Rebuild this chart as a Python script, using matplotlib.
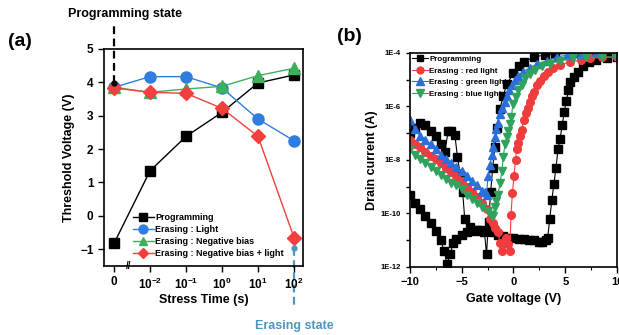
import matplotlib
matplotlib.use("Agg")
import matplotlib.pyplot as plt
import numpy as np

plt.rcParams['font.family'] = ['Liberation Sans', 'DejaVu Sans']
plt.rcParams['font.weight'] = 'bold'
plt.rcParams['mathtext.fontset'] = 'custom'
plt.rcParams['mathtext.bf'] = 'Liberation Sans:bold'
plt.rcParams['mathtext.rm'] = 'Liberation Sans:bold'
plt.rcParams['mathtext.default'] = 'bf'

# ---- panel (a): threshold voltage vs stress time ----
stress_labels = ['0', r'$10^{-2}$', r'$10^{-1}$', r'$10^{0}$', r'$10^{1}$', r'$10^{2}$']
vth_programming = [-0.82, 1.35, 2.38, 3.10, 3.98, 4.22]
vth_light = [3.85, 4.17, 4.17, 3.83, 2.90, 2.25]
vth_negbias = [3.85, 3.70, 3.80, 3.88, 4.20, 4.42]
vth_negbias_light = [3.83, 3.70, 3.67, 3.22, 2.38, -0.65]
prog_state_vth = 3.97
erase_state_vth = -0.97

# ---- panel (b): transfer curves, gate voltage (V) and log10 of drain current (A) ----
vg_prog = [-10, -9.5, -9, -8.5, -8, -7.5, -7, -6.7, -6.4, -6.1, -5.8, -5.5, -5, -4.5, -4, -3.5,
           -3, -2.5, -2, -1.5, -1, -0.5, 0, 0.5, 1, 1.5, 2, 2.5, 2.8, 3.1, 3.3, 3.5, 3.7, 3.9,
           4.1, 4.3, 4.5, 4.7, 4.9, 5.1, 5.3, 5.5, 5.8, 6.2, 6.7, 7.3, 8, 9, 10]
logi_prog = [-9.3, -9.6, -9.85, -10.1, -10.35, -10.65, -11.0, -11.4, -11.9, -11.5, -11.1, -10.95,
             -10.8, -10.7, -10.65, -10.6, -10.6, -10.65, -10.7, -10.8, -10.85, -10.9, -10.9, -10.95,
             -10.95, -11.0, -11.0, -11.05, -11.05, -11.0, -10.9, -10.2, -9.5, -8.9, -8.3, -7.6, -7.2,
             -6.7, -6.2, -5.8, -5.4, -5.1, -4.9, -4.7, -4.5, -4.35, -4.25, -4.2, -4.15]

vg_init = [-10, -9.5, -9, -8.5, -8, -7.5, -7, -6.6, -6.3, -6.0, -5.65, -5.4, -5.1, -4.9, -4.7,
           -4.2, -3.7, -3.2, -2.8, -2.6, -2.4, -2.2, -2.0, -1.8, -1.6, -1.3, -1.0, -0.6, 0, 0.5,
           1, 2, 3, 4, 6, 8, 10]
logi_init = [-7.0, -6.8, -6.6, -6.7, -6.9, -7.1, -7.4, -7.7, -6.9, -6.9, -7.07, -7.9, -8.6, -9.2,
             -10.2, -10.5, -10.6, -10.65, -10.7, -11.5, -10.3, -9.2, -8.3, -7.5, -6.8, -6.1, -5.6,
             -5.15, -4.75, -4.5, -4.35, -4.15, -4.08, -4.05, -4.0, -4.0, -4.0]

vg_red = [-10, -9.5, -9, -8.5, -8, -7.5, -7, -6.5, -6, -5.5, -5, -4.5, -4, -3.5, -3, -2.6, -2.3,
          -2.0, -1.8, -1.5, -1.3, -1.1, -0.9, -0.7, -0.5, -0.35, -0.24, -0.1, 0.05, 0.2, 0.3, 0.45,
          0.6, 0.8, 1.0, 1.2, 1.4, 1.6, 1.8, 2.0, 2.3, 2.6, 2.9, 3.3, 3.8, 4.5, 5.5, 6.5, 7.4, 8.5, 10]
logi_red = [-7.25, -7.4, -7.5, -7.7, -7.85, -7.95, -8.1, -8.3, -8.45, -8.6, -8.8, -9.0, -9.2, -9.4,
            -9.6, -9.85, -10.2, -10.35, -10.55, -10.7, -11.1, -11.4, -11.1, -10.9, -11.15, -11.4,
            -10.05, -9.25, -8.6, -8.0, -7.6, -7.37, -7.1, -6.88, -6.5, -6.25, -6.05, -5.85, -5.6,
            -5.45, -5.2, -5.05, -4.85, -4.7, -4.57, -4.45, -4.33, -4.27, -4.2, -4.17, -4.15]

vg_blue = [-10, -9.5, -9, -8.5, -8, -7.5, -7, -6.5, -6, -5.5, -5, -4.5, -4, -3.5, -3, -2.75, -2.6,
           -2.45, -2.25, -2.1, -2.0, -1.8, -1.65, -1.5, -1.3, -1.1, -0.85, -0.6, -0.4, -0.15, 0.15,
           0.45, 0.9, 1.6, 2.3, 3.2, 4.2, 5.2, 6.5, 8, 10]
logi_blue = [-6.5, -6.85, -7.1, -7.25, -7.4, -7.6, -7.8, -7.95, -8.1, -8.25, -8.4, -8.6, -8.8,
             -8.95, -9.15, -9.2, -9.3, -8.6, -8.2, -7.8, -7.5, -7.15, -6.85, -6.6, -6.3, -6.05,
             -5.85, -5.6, -5.4, -5.2, -5.0, -4.85, -4.7, -4.55, -4.4, -4.3, -4.15, -4.08, -4.03,
             -4.0, -4.0]

vg_green = [-10, -9.5, -9, -8.5, -8, -7.5, -7, -6.5, -6, -5.5, -5, -4.5, -4, -3.5, -3, -2.5, -2.2,
            -2.0, -1.8, -1.65, -1.5, -1.3, -1.1, -1.0, -0.8, -0.65, -0.5, -0.35, -0.2, -0.05, 0.2,
            0.45, 0.8, 1.1, 1.6, 2.1, 2.8, 3.5, 4.5, 5.75, 7, 8.5, 10]
logi_green = [-7.6, -7.8, -7.95, -8.1, -8.25, -8.4, -8.55, -8.7, -8.85, -8.95, -9.1, -9.3, -9.45,
              -9.6, -9.75, -9.9, -10.05, -10.1, -9.75, -9.55, -9.3, -8.85, -8.4, -7.9, -7.4, -7.15,
              -6.9, -6.65, -6.4, -5.9, -5.65, -5.4, -5.2, -4.95, -4.8, -4.63, -4.5, -4.4, -4.3,
              -4.2, -4.17, -4.15, -4.15]

decades = [-4, -5, -6, -7, -8, -9, -10, -11, -12]
decade_labels = ['1E-4', '', '1E-6', '', '1E-8', '', '1E-10', '', '1E-12']

fig = plt.figure(figsize=(6.19, 3.35), dpi=100)

# ================= (a) =================
ax1 = fig.add_axes([0.168, 0.206, 0.3215, 0.648])
x = np.arange(len(stress_labels))
ax1.plot(x, vth_programming, '-s', color='black', mfc='black', mec='black', ms=7.5, lw=1.0,
         label='Programming')
ax1.plot(x, vth_light, '-o', color='#2f7de0', ms=8, lw=1.0, label='Erasing : Light')
ax1.plot(x, vth_negbias, '-^', color='#3cb05a', ms=8, lw=1.0, label='Erasing : Negative bias')
ax1.plot(x, vth_negbias_light, '-D', color='#f43f3f', ms=7, lw=1.0,
         label='Erasing : Negative bias + light')

ax1.set_xlim(-0.28, 5.25)
ax1.set_ylim(-1.5, 5)
ax1.set_xticks(x)
ax1.set_xticklabels(stress_labels, fontsize=8.5)
ax1.set_yticks([-1, 0, 1, 2, 3, 4, 5])
ax1.tick_params(axis='y', labelsize=8.5, length=4, width=1)
ax1.tick_params(axis='x', length=4, width=1)
for s in ax1.spines.values():
    s.set_linewidth(1.2)
ax1.set_xlabel('Stress Time (s)', fontsize=9, fontweight='bold', labelpad=2)
ax1.set_ylabel('Threshold Voltage (V)', fontsize=9, fontweight='bold', labelpad=4)

ax1.legend(loc='lower left', bbox_to_anchor=(0.145, 0.035), frameon=False,
           handlelength=2.3, handletextpad=0.15, labelspacing=0.35, borderaxespad=0,
           borderpad=0, markerscale=0.8, prop={'weight': 'bold', 'size': 6.5})

# axis break mark
ax1.text(0.4, -1.5, '//', fontsize=7, ha='center', va='center', fontweight='bold',
         clip_on=False)

# programming state marker
ax1.plot([0, 0], [prog_state_vth, 5.68], '--', color='black', lw=1.6, dashes=(3.5, 2),
         clip_on=False)
ax1.plot(0, prog_state_vth, 'o', color='black', ms=3.5, clip_on=False, zorder=5)
ax1.text(0.3, 6.05, 'Programming state', fontsize=9, fontweight='bold', ha='center',
         va='center', clip_on=False)

# erasing state marker
ax1.plot([5, 5], [erase_state_vth, -2.7], '--', color='#4e95c0', lw=1.6, dashes=(3.5, 2),
         clip_on=False, zorder=1)
ax1.plot(5, erase_state_vth, 'o', color='#4e95c0', ms=3.5, clip_on=False)
ax1.text(5.0, -3.3, 'Erasing state', fontsize=9, fontweight='bold', color='#4e95c0',
         ha='center', va='center', clip_on=False)

fig.text(0.013, 0.875, '(a)', fontsize=14, fontweight='bold', va='center')

# ================= (b) =================
ax2 = fig.add_axes([0.662, 0.203, 0.335, 0.639])
ms_b = 5.5
ax2.plot(vg_init, np.power(10.0, logi_init), '-s', color='black', ms=ms_b, lw=0.8)
ax2.plot(vg_prog, np.power(10.0, logi_prog), '-s', color='black', ms=ms_b, lw=0.8,
         label='Programming')
ax2.plot(vg_red, np.power(10.0, logi_red), '-o', color='#f03c3c', ms=ms_b, lw=0.8,
         label='Erasing : red light')
ax2.plot(vg_blue, np.power(10.0, logi_blue), '-^', color='#2a6fdb', ms=ms_b + 0.5, lw=0.8,
         label='Erasing : green light')
ax2.plot(vg_green, np.power(10.0, logi_green), '-v', color='#2fa35d', ms=ms_b + 0.5, lw=0.8,
         label='Erasing : blue light')

ax2.set_yscale('log')
ax2.set_xlim(-10, 10)
ax2.set_ylim(1e-12, 1e-4)
ax2.set_yticks([10.0 ** d for d in decades])
ax2.set_yticklabels(decade_labels, fontsize=5.5)
ax2.yaxis.set_minor_locator(matplotlib.ticker.NullLocator())
ax2.set_xticks([-10, -5, 0, 5, 10])
ax2.set_xticks([-7.5, -2.5, 2.5, 7.5], minor=True)
ax2.tick_params(axis='x', which='major', labelsize=8, length=4, width=1)
ax2.tick_params(axis='x', which='minor', length=2.5, width=0.8)
ax2.tick_params(axis='y', length=3, width=1)
for s in ax2.spines.values():
    s.set_linewidth(1.2)
ax2.set_xlabel('Gate voltage (V)', fontsize=9, fontweight='bold', labelpad=4)
ax2.set_ylabel('Drain current (A)', fontsize=9, fontweight='bold', labelpad=2)

ax2.legend(loc='upper left', frameon=False, handlelength=2.0, handletextpad=0.1,
           labelspacing=0.5, borderaxespad=0.1, borderpad=0.2, markerscale=0.9,
           prop={'weight': 'bold', 'size': 5.8})

fig.text(0.545, 0.89, '(b)', fontsize=14, fontweight='bold', va='center')

fig.savefig('out.png', dpi=100)
